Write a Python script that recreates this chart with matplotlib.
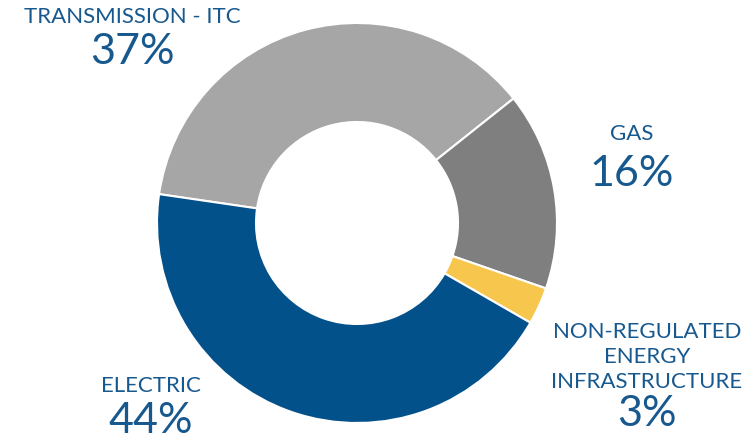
import matplotlib.pyplot as plt

plt.rcParams['font.family'] = ['Lato', 'DejaVu Sans']

segments = ['TRANSMISSION - ITC', 'GAS', 'NON-REGULATED\nENERGY\nINFRASTRUCTURE', 'ELECTRIC']
shares = [37, 16, 3, 44]
colors = ['#A6A6A6', '#7F7F7F', '#F7C64C', '#03518A']
text_color = '#17598F'

W, H = 747, 439
fig = plt.figure(figsize=(W / 100, H / 100), dpi=100)
ax = fig.add_axes([0, 0, 1, 1])

ax.pie(shares, colors=colors, startangle=171.7, counterclock=False,
       center=(357, H - 224), radius=200,
       wedgeprops=dict(width=99, edgecolor='white', linewidth=1.5))

# pie() resets the limits, so set them afterwards
ax.set_xlim(0, W)
ax.set_ylim(0, H)
ax.set_aspect('equal')
ax.axis('off')

# label anchors in pixel coords (x, y of name, y of percent)
label_pos = [(132, 17, 52), (632, 134, 174), (647, 357, 414), (151, 386, 421)]

for name, val, (x, yn, yp) in zip(segments, shares, label_pos):
    ax.text(x, H - yn, name, ha='center', va='center', fontsize=16,
            color=text_color, linespacing=1.3)
    ax.text(x, H - yp, f'{val}%', ha='center', va='center', fontsize=31,
            color=text_color)

plt.savefig('out.png', dpi=100)
